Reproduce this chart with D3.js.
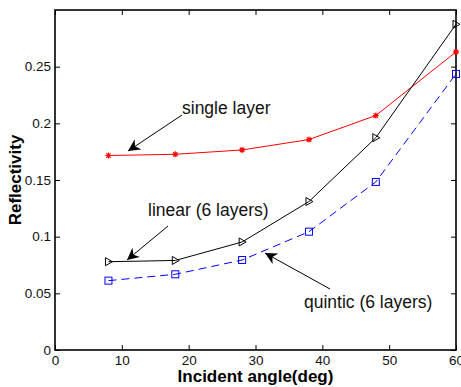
<!DOCTYPE html>
<html>
<head>
<meta charset="utf-8">
<script src="https://cdn.jsdelivr.net/npm/d3@7"></script>
<style>
  body { margin: 0; background: #fff; }
  svg { display: block; font-family: Arial, "Liberation Sans", sans-serif; }
</style>
</head>
<body>
<svg id="chart"></svg>
<script>
// angulos de incidencia
const angles = [8, 18, 28, 38, 48, 60]

// reflectividade por serie
const singleLayer = [0.1716, 0.1727, 0.1765, 0.1857, 0.2069, 0.2630]
const linear6 = [0.0779, 0.0790, 0.0953, 0.1310, 0.1873, 0.2874]
const quintic6 = [0.0612, 0.0668, 0.0794, 0.1044, 0.1483, 0.2436]

const xTicks = [0, 10, 20, 30, 40, 50, 60]
const yTicks = [0, 0.05, 0.1, 0.15, 0.2, 0.25]

let svgWidth = 461
let svgHeight = 387
let margin = { left: 55, top: 10, right: 5, bottom: 37 }
let chartWidth = 456 - margin.left
let chartHeight = 350 - margin.top

const svg = d3.select("#chart")
    .attr("width", svgWidth)
    .attr("height", svgHeight)

let xScale = d3.scaleLinear().domain([0, 60]).range([0, chartWidth])
let yScale = d3.scaleLinear().domain([0, 0.3]).range([chartHeight, 0])

const g = svg.append("g").attr("transform", `translate(${margin.left},${margin.top})`)

// eixos (ticks para dentro, em todos os lados)
function styleAxis(sel) {
    sel.select(".domain").remove()
    sel.selectAll("line").attr("stroke", "#000").attr("stroke-width", 1)
    sel.selectAll("text").attr("fill", "#111").style("font-size", "13.5px")
}

g.append("g")
    .attr("transform", `translate(0,${chartHeight})`)
    .call(d3.axisBottom(xScale).tickValues(xTicks).tickFormat(d3.format("d"))
        .tickSizeInner(-5).tickSizeOuter(0).tickPadding(5))
    .call(styleAxis)

g.append("g")
    .call(d3.axisTop(xScale).tickValues(xTicks).tickFormat("")
        .tickSizeInner(-5).tickSizeOuter(0))
    .call(styleAxis)

g.append("g")
    .call(d3.axisLeft(yScale).tickValues(yTicks).tickFormat(d => d == 0 ? "0" : d3.format("")(+d.toFixed(2)))
        .tickSizeInner(-5).tickSizeOuter(0).tickPadding(4))
    .call(styleAxis)

g.append("g")
    .attr("transform", `translate(${chartWidth},0)`)
    .call(d3.axisRight(yScale).tickValues(yTicks).tickFormat("")
        .tickSizeInner(-5).tickSizeOuter(0))
    .call(styleAxis)

// moldura
g.append("rect")
    .attr("width", chartWidth)
    .attr("height", chartHeight)
    .attr("fill", "none")
    .attr("stroke", "#000")
    .attr("stroke-width", 1.6)

const line = d3.line().x(d => xScale(d[0])).y(d => yScale(d[1]))

function series(values, color, dash) {
    let pts = angles.map((a, i) => [a, values[i]])
    g.append("path")
        .datum(pts)
        .attr("d", line)
        .attr("fill", "none")
        .attr("stroke", color)
        .attr("stroke-width", 1)
        .attr("stroke-dasharray", dash)
    return pts
}

// single layer - vermelho com asteriscos
let ptsSingle = series(singleLayer, "#ff0000", null)
g.selectAll(".star")
    .data(ptsSingle)
    .join("path")
    .attr("transform", d => `translate(${xScale(d[0])},${yScale(d[1])})`)
    .attr("d", "M-3,0H3M0,-3V3M-2.2,-2.2L2.2,2.2M-2.2,2.2L2.2,-2.2")
    .attr("stroke", "#ff0000")
    .attr("stroke-width", 1.2)

// linear - preto com triangulos
let ptsLinear = series(linear6, "#000", null)
g.selectAll(".tri")
    .data(ptsLinear)
    .join("path")
    .attr("transform", d => `translate(${xScale(d[0])},${yScale(d[1])})`)
    .attr("d", "M-3,-4L4,0L-3,4Z")
    .attr("fill", "none")
    .attr("stroke", "#000")
    .attr("stroke-width", 1)

// quintic - azul tracejado com quadrados
let ptsQuintic = series(quintic6, "#0000ff", "8,5")
g.selectAll(".sq")
    .data(ptsQuintic)
    .join("rect")
    .attr("x", d => xScale(d[0]) - 3.5)
    .attr("y", d => yScale(d[1]) - 3.5)
    .attr("width", 7)
    .attr("height", 7)
    .attr("fill", "none")
    .attr("stroke", "#0000ff")
    .attr("stroke-width", 1)

// anotacoes com setas
svg.append("defs").append("marker")
    .attr("id", "arrow")
    .attr("viewBox", "0 0 10 10")
    .attr("refX", 10).attr("refY", 5)
    .attr("markerWidth", 12).attr("markerHeight", 12)
    .attr("markerUnits", "userSpaceOnUse")
    .attr("orient", "auto")
    .append("path")
    .attr("d", "M0,0L10,5L0,10L3,5Z")
    .attr("fill", "#000")

function note(text, tx, ty, x1, y1, x2, y2) {
    svg.append("text")
        .attr("x", tx).attr("y", ty)
        .style("font-size", "17.5px")
        .attr("fill", "#111")
        .text(text)
    svg.append("line")
        .attr("x1", x1).attr("y1", y1)
        .attr("x2", x2).attr("y2", y2)
        .attr("stroke", "#000")
        .attr("stroke-width", 1)
        .attr("marker-end", "url(#arrow)")
}

note("single layer", 182, 114, 182, 115, 128, 151)
note("linear (6 layers)", 148, 216, 168, 226, 127, 260)
note("quintic (6 layers)", 304, 308, 330, 289, 265, 253)

// titulos dos eixos
svg.append("text")
    .attr("x", margin.left + chartWidth / 2)
    .attr("y", 382)
    .attr("text-anchor", "middle")
    .style("font-size", "17px")
    .style("font-weight", "bold")
    .text("Incident angle(deg)")

svg.append("text")
    .attr("transform", `translate(21,${margin.top + chartHeight / 2}) rotate(-90)`)
    .attr("text-anchor", "middle")
    .style("font-size", "17px")
    .style("font-weight", "bold")
    .text("Reflectivity")
</script>
</body>
</html>
